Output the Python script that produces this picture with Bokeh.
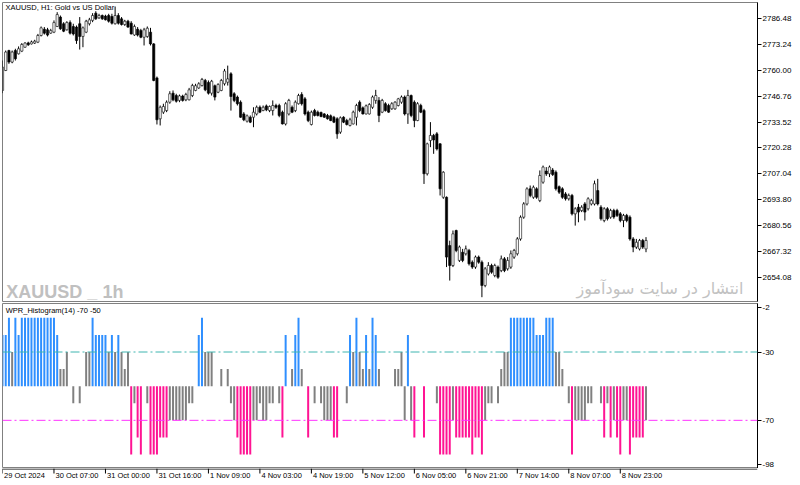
from bokeh.plotting import figure
from bokeh.layouts import column
from bokeh.models import Range1d, FixedTicker, PrintfTickFormatter, Span, Label, ColumnDataSource
from bokeh.core.properties import value
from bokeh.embed import file_html
from bokeh.resources import INLINE

# ---------------- data (XAUUSD H1) ----------------
open_ = [2749.7, 2759.9, 2770.1, 2764.2, 2770.1, 2768.4, 2769.8, 2771.8, 2774.0, 2773.5,
         2773.9, 2774.4, 2777.8, 2781.0, 2780.7, 2779.0, 2779.5, 2782.4, 2787.2, 2783.8,
         2780.7, 2784.4, 2782.4, 2782.1, 2783.8, 2777.3, 2779.5, 2783.8, 2785.5, 2789.2,
         2786.8, 2788.0, 2787.7, 2788.0, 2787.5, 2783.8, 2788.0, 2786.3, 2783.4, 2785.1,
         2784.1, 2778.1, 2781.0, 2780.3, 2776.9, 2777.3, 2779.5, 2773.5, 2756.1, 2735.2,
         2738.6, 2739.4, 2743.7, 2748.3, 2747.1, 2744.6, 2746.8, 2744.9, 2744.9, 2747.1,
         2749.7, 2751.0, 2752.2, 2754.8, 2753.8, 2748.3, 2752.1, 2748.8, 2749.7, 2753.1,
         2753.9, 2758.2, 2748.0, 2746.3, 2743.7, 2737.7, 2734.0, 2736.0, 2736.0, 2737.7,
         2741.1, 2739.4, 2741.8, 2739.4, 2739.4, 2742.0, 2742.0, 2738.6, 2732.6, 2737.7,
         2741.1, 2739.4, 2742.9, 2747.6, 2745.4, 2738.6, 2732.3, 2739.4, 2738.6, 2738.4,
         2737.7, 2736.9, 2736.7, 2736.0, 2735.2, 2728.4, 2736.0, 2734.3, 2731.8, 2732.6,
         2736.0, 2743.7, 2740.8, 2737.7, 2737.7, 2741.1, 2744.6, 2744.6, 2738.6, 2742.9,
         2742.0, 2740.3, 2740.3, 2742.0, 2743.7, 2746.3, 2737.7, 2747.1, 2743.7, 2734.3,
         2742.0, 2739.4, 2707.1, 2724.1, 2726.7, 2727.5, 2722.4, 2695.1, 2695.1, 2670.4,
         2660.2, 2678.1, 2662.8, 2667.0, 2666.2, 2667.9, 2661.9, 2659.4, 2664.5, 2661.9,
         2650.0, 2655.9, 2660.2, 2655.1, 2659.4, 2657.6, 2663.6, 2658.5, 2659.4, 2664.5,
         2666.2, 2673.8, 2684.9, 2691.7, 2699.4, 2695.1, 2699.4, 2693.4, 2702.8, 2708.5,
         2707.1, 2709.0, 2707.9, 2700.5, 2699.4, 2696.8, 2694.3, 2696.0, 2686.6, 2690.0,
         2688.3, 2691.7, 2689.2, 2691.7, 2691.7, 2698.5, 2690.0, 2683.2, 2689.2, 2684.9,
         2688.3, 2688.3, 2686.6, 2683.2, 2685.8, 2684.9, 2673.8, 2669.6, 2668.7, 2673.0,
         2668.7]
high = [2765.0, 2770.1, 2770.5, 2770.1, 2771.0, 2772.2, 2773.9, 2774.4, 2774.6, 2775.2,
        2775.6, 2778.6, 2782.4, 2782.1, 2781.7, 2781.2, 2785.5, 2789.7, 2788.0, 2784.6,
        2785.1, 2785.5, 2783.8, 2782.9, 2787.2, 2782.4, 2785.8, 2786.8, 2789.2, 2790.2,
        2788.9, 2788.5, 2788.4, 2788.9, 2788.9, 2792.6, 2789.2, 2787.2, 2785.8, 2785.8,
        2785.1, 2783.4, 2782.1, 2781.2, 2781.7, 2782.4, 2781.7, 2773.9, 2756.8, 2742.0,
        2742.9, 2744.6, 2749.3, 2749.7, 2748.0, 2747.6, 2747.5, 2748.5, 2751.0, 2753.1,
        2753.1, 2753.9, 2756.1, 2755.6, 2754.8, 2755.1, 2752.7, 2753.4, 2755.6, 2760.7,
        2762.4, 2759.0, 2748.8, 2747.1, 2744.6, 2738.6, 2737.4, 2736.9, 2741.1, 2742.0,
        2742.0, 2742.0, 2742.5, 2742.0, 2744.6, 2742.9, 2742.9, 2739.4, 2743.7, 2745.4,
        2742.0, 2744.6, 2748.0, 2748.8, 2746.3, 2739.4, 2739.4, 2740.3, 2739.4, 2738.9,
        2738.1, 2737.7, 2737.4, 2736.7, 2736.0, 2736.4, 2736.5, 2735.2, 2735.7, 2739.4,
        2742.9, 2744.6, 2741.5, 2742.5, 2743.2, 2747.1, 2750.0, 2746.3, 2745.4, 2743.7,
        2742.9, 2743.7, 2744.2, 2745.9, 2747.1, 2747.1, 2750.0, 2747.6, 2744.6, 2743.7,
        2742.9, 2740.3, 2723.0, 2733.5, 2727.5, 2728.4, 2722.7, 2708.4, 2695.5, 2672.9,
        2678.1, 2678.5, 2670.4, 2668.7, 2670.4, 2668.7, 2662.8, 2665.3, 2665.3, 2662.8,
        2659.4, 2661.9, 2661.1, 2661.1, 2660.2, 2665.3, 2664.5, 2664.5, 2667.9, 2668.7,
        2674.7, 2685.8, 2692.6, 2700.2, 2701.1, 2701.1, 2700.2, 2708.8, 2711.3, 2710.5,
        2711.3, 2710.0, 2708.8, 2701.1, 2700.2, 2697.7, 2697.0, 2696.8, 2690.0, 2691.7,
        2691.0, 2692.6, 2695.1, 2694.3, 2703.6, 2704.5, 2691.0, 2690.0, 2690.0, 2689.2,
        2689.2, 2689.2, 2687.5, 2686.6, 2686.6, 2685.8, 2674.7, 2673.8, 2673.8, 2673.8,
        2674.7]
low = [2748.3, 2759.6, 2763.3, 2763.6, 2765.0, 2768.1, 2769.3, 2771.5, 2772.5, 2773.2,
       2773.5, 2773.9, 2777.3, 2778.3, 2777.3, 2778.6, 2779.0, 2782.1, 2780.7, 2779.5,
       2780.3, 2778.3, 2777.8, 2773.5, 2770.6, 2771.8, 2779.0, 2782.9, 2784.6, 2785.8,
       2786.3, 2785.8, 2785.5, 2784.4, 2783.4, 2783.4, 2783.4, 2782.9, 2782.7, 2781.7,
       2778.3, 2777.6, 2777.3, 2776.4, 2772.7, 2776.6, 2772.7, 2754.4, 2732.3, 2731.8,
       2737.7, 2738.6, 2742.9, 2744.2, 2743.5, 2743.7, 2744.0, 2744.2, 2744.6, 2746.3,
       2749.3, 2750.5, 2751.7, 2749.3, 2747.6, 2747.1, 2744.6, 2748.3, 2749.3, 2752.2,
       2752.2, 2739.4, 2743.7, 2742.0, 2735.7, 2734.0, 2733.3, 2733.0, 2730.9, 2736.9,
       2738.1, 2739.1, 2739.1, 2738.6, 2736.9, 2740.3, 2736.0, 2732.3, 2731.8, 2736.9,
       2738.1, 2738.6, 2742.5, 2742.0, 2736.9, 2733.5, 2731.8, 2736.4, 2736.4, 2736.0,
       2735.7, 2734.8, 2734.0, 2733.0, 2725.0, 2727.5, 2733.0, 2731.8, 2731.3, 2732.3,
       2731.8, 2738.6, 2737.4, 2737.4, 2737.4, 2740.3, 2742.9, 2733.5, 2738.1, 2738.9,
       2738.3, 2739.8, 2739.8, 2741.5, 2742.9, 2736.9, 2732.6, 2736.0, 2730.9, 2734.0,
       2738.1, 2701.9, 2706.2, 2720.7, 2717.3, 2719.0, 2696.0, 2694.3, 2659.4, 2652.5,
       2659.4, 2667.0, 2662.0, 2661.9, 2665.3, 2660.2, 2658.5, 2658.5, 2661.1, 2644.0,
       2649.1, 2655.1, 2656.0, 2654.2, 2653.4, 2656.8, 2656.8, 2657.6, 2658.5, 2663.6,
       2665.3, 2672.9, 2684.1, 2690.9, 2695.1, 2694.3, 2694.3, 2692.6, 2702.0, 2706.0,
       2705.4, 2706.0, 2698.5, 2696.8, 2694.3, 2693.4, 2693.4, 2685.8, 2680.6, 2682.3,
       2687.5, 2683.2, 2688.3, 2690.9, 2690.9, 2690.9, 2683.2, 2682.3, 2683.2, 2684.1,
       2684.1, 2685.0, 2682.3, 2679.8, 2682.3, 2672.9, 2667.0, 2668.7, 2667.9, 2668.7,
       2667.0]
close = [2761.6, 2769.3, 2764.2, 2769.3, 2765.9, 2771.0, 2773.2, 2773.9, 2773.0, 2774.5,
         2774.9, 2777.8, 2781.7, 2779.0, 2778.0, 2780.3, 2784.4, 2788.5, 2781.2, 2780.0,
         2784.4, 2779.0, 2778.6, 2775.2, 2777.3, 2781.7, 2785.1, 2785.8, 2788.0, 2786.3,
         2788.0, 2786.3, 2785.8, 2785.1, 2784.1, 2788.0, 2784.1, 2783.4, 2785.1, 2782.1,
         2778.6, 2782.4, 2778.0, 2776.9, 2780.7, 2781.5, 2773.5, 2754.8, 2734.7, 2741.1,
         2741.5, 2743.7, 2748.0, 2744.9, 2744.2, 2746.9, 2744.6, 2747.6, 2750.0, 2752.2,
         2752.1, 2753.1, 2755.3, 2750.0, 2748.3, 2754.4, 2746.3, 2752.7, 2754.8, 2759.6,
         2755.6, 2746.6, 2744.6, 2742.9, 2736.0, 2734.7, 2736.7, 2733.5, 2738.6, 2741.1,
         2738.6, 2741.1, 2739.8, 2741.5, 2742.0, 2741.1, 2736.9, 2732.6, 2742.9, 2744.6,
         2738.6, 2743.7, 2747.1, 2742.9, 2737.7, 2734.3, 2738.6, 2736.9, 2736.9, 2736.4,
         2736.0, 2735.2, 2734.3, 2733.5, 2727.5, 2735.7, 2733.5, 2732.3, 2734.7, 2738.6,
         2742.0, 2739.4, 2737.7, 2741.8, 2742.5, 2746.3, 2747.1, 2736.9, 2744.6, 2739.4,
         2738.6, 2742.9, 2743.7, 2745.4, 2746.3, 2737.7, 2747.1, 2736.9, 2734.3, 2742.9,
         2738.6, 2707.1, 2722.4, 2726.7, 2724.4, 2719.8, 2699.4, 2707.9, 2664.5, 2660.2,
         2676.4, 2667.9, 2669.6, 2662.8, 2668.7, 2661.1, 2659.4, 2664.5, 2661.9, 2650.0,
         2658.5, 2660.2, 2656.8, 2660.2, 2654.2, 2663.6, 2657.6, 2662.8, 2666.2, 2667.9,
         2673.8, 2684.9, 2691.7, 2699.4, 2696.0, 2700.2, 2695.1, 2706.2, 2710.5, 2707.0,
         2710.5, 2706.7, 2699.4, 2697.7, 2695.1, 2694.3, 2696.0, 2686.6, 2689.2, 2687.5,
         2690.0, 2687.5, 2694.3, 2693.4, 2702.0, 2691.7, 2684.1, 2689.2, 2684.1, 2688.3,
         2685.0, 2685.8, 2683.2, 2685.8, 2683.2, 2673.8, 2669.6, 2672.1, 2673.0, 2669.6,
         2673.0]

# WPR(14) histogram values
wpr = [-20, -20, -10, -30, -10, -20, -10, -10, -10, -10,
       -10, -10, -10, -10, -10, -10, -10, -20, -40, -40,
       -30, -50, -60, -50, -60, -50, -30, -30, -10, -20,
       -20, -20, -20, -30, -20, -30, -20, -30, -40, -30,
       -90, -60, -80, -90, -50, -60, -90, -90, -90, -80,
       -80, -80, -70, -70, -70, -70, -70, -70, -60, -60,
       -50, -20, -10, -30, -30, -30, -50, -50, -40, -50,
       -40, -60, -70, -80, -90, -90, -90, -90, -70, -70,
       -60, -70, -70, -60, -60, -50, -60, -80, -20, -50,
       -40, -20, -10, -40, -50, -80, -50, -60, -50, -60,
       -70, -70, -70, -80, -80, -50, -50, -60, -20, -30,
       -10, -30, -40, -20, -40, -10, -20, -40, -50, -50,
       -50, -50, -40, -40, -30, -70, -20, -70, -80, -50,
       -50, -80, -50, -50, -50, -60, -90, -90, -90, -90,
       -70, -80, -80, -80, -80, -80, -90, -80, -80, -90,
       -70, -60, -60, -50, -60, -40, -30, -30, -10, -10,
       -10, -10, -10, -10, -10, -10, -20, -20, -20, -10,
       -10, -10, -30, -30, -40, -50, -60, -90, -70, -70,
       -70, -70, -60, -60, -50, -50, -60, -80, -60, -80,
       -70, -80, -90, -70, -70, -90, -80, -80, -80, -80,
       -70]

price_ticks = [2654.08, 2667.32, 2680.56, 2693.80, 2707.04, 2720.28,
               2733.52, 2746.76, 2760.00, 2773.24, 2786.48]
# MT draws its edge labels (-2, -98) slightly inside the window
wpr_tick_pos = [-96, -70, -30, -4]
wpr_tick_text = ["-98", "-70", "-30", "-2"]
wpr_levels = [-30, -70]
wpr_base = -50
time_labels = ["29 Oct 2024", "30 Oct 07:00", "31 Oct 00:00", "31 Oct 16:00",
               "1 Nov 09:00", "4 Nov 03:00", "4 Nov 19:00", "5 Nov 12:00",
               "6 Nov 05:00", "6 Nov 21:00", "7 Nov 14:00", "8 Nov 07:00",
               "8 Nov 23:00"]
bars_per_label = 16

# ---------------- styling ----------------
FONT = "Liberation Sans"
BORDER = "#808080"
n = min(len(open_), len(high), len(low), len(close))
idx = list(range(n))

xr = Range1d(0, 234.65)


def style_right_axis(ax):
    ax.major_tick_out = 4
    ax.major_tick_in = 0
    ax.minor_tick_out = 0
    ax.minor_tick_in = 0
    ax.major_label_standoff = 1
    ax.major_label_text_font = FONT
    ax.major_label_text_font_size = "8px"
    ax.major_label_text_color = "black"
    ax.axis_line_color = "black"
    ax.major_tick_line_color = "black"


# ---------------- main price panel ----------------
p1 = figure(width=800, height=302, x_range=xr, y_range=Range1d(2641.8, 2794.66),
            y_axis_location="right", x_axis_location=None,
            toolbar_location=None, output_backend="svg",
            min_border_left=2, min_border_right=43, min_border_top=2, min_border_bottom=1)
p1.grid.visible = False
p1.outline_line_color = BORDER

ya = p1.yaxis[0]
ya.ticker = FixedTicker(ticks=price_ticks)
ya.formatter = PrintfTickFormatter(format="%.2f")
style_right_axis(ya)

up = [close[i] >= open_[i] for i in idx]
src = ColumnDataSource(dict(
    x=idx, h=high[:n], l=low[:n],
    top=[max(open_[i], close[i]) for i in idx],
    bot=[min(open_[i], close[i]) for i in idx],
    fill=["white" if u else "black" for u in up],
))
p1.segment(x0="x", y0="l", x1="x", y1="h", source=src, line_color="black", line_width=1)
p1.vbar(x="x", width=0.7, top="top", bottom="bot", source=src,
        fill_color="fill", line_color="black", line_width=0.6)

p1.add_layout(Label(x=0, y=2794.2, x_offset=3, text="XAUUSD, H1:  Gold vs US Dollar",
                    text_font=FONT, text_font_size="7.5px", text_color="black",
                    text_baseline="top", text_align="left"))
p1.add_layout(Label(x=1.2, y=2646.8, text="XAUUSD _ 1h", text_font=FONT,
                    text_font_style="bold", text_font_size="18px", text_color="#c0c0c0",
                    text_baseline="alphabetic", text_align="left"))
p1.add_layout(Label(x=230.3, y=2648.2, text="انتشار در سایت سودآموز", text_font="DejaVu Sans",
                    text_font_size="16px", text_color="#c2c2c2",
                    text_baseline="alphabetic", text_align="right"))

# ---------------- WPR histogram panel ----------------
p2 = figure(width=800, height=166, x_range=xr, y_range=Range1d(-98.2, -1.6),
            y_axis_location="right", x_axis_location=None,
            toolbar_location=None, output_backend="svg",
            min_border_left=2, min_border_right=43, min_border_top=1, min_border_bottom=0)
p2.grid.visible = False
p2.outline_line_color = BORDER

ya2 = p2.yaxis[0]
ya2.ticker = FixedTicker(ticks=wpr_tick_pos)
ya2.major_label_overrides = dict(zip(wpr_tick_pos, wpr_tick_text))
style_right_axis(ya2)

m = len(wpr)
hcol = ["#2F8FFF" if v > -30 else ("#FF1493" if v < -70 else "#808080") for v in wpr]
hsrc = ColumnDataSource(dict(x=list(range(m)), top=wpr, bottom=[wpr_base] * m, color=hcol))
p2.vbar(x="x", width=0.62, top="top", bottom="bottom", source=hsrc,
        fill_color="color", line_color=None)

p2.add_layout(Span(location=wpr_levels[0], dimension="width", line_color="#3FB5B0",
                   line_dash="9 3 2 3", line_width=1))
p2.add_layout(Span(location=wpr_levels[1], dimension="width", line_color="#FF33FF",
                   line_dash="9 3 2 3", line_width=1))

p2.add_layout(Label(x=1.0, y=-3.2, text="WPR_Histogram(14) -70 -50", text_font=FONT,
                    text_font_size="7.5px", text_color="black",
                    text_baseline="top", text_align="left"))

# ---------------- time scale strip ----------------
p3 = figure(width=800, height=17, x_range=xr, y_range=Range1d(0, 17),
            x_axis_location=None, y_axis_location=None,
            toolbar_location=None, output_backend="svg",
            min_border_left=2, min_border_right=43, min_border_top=0, min_border_bottom=0)
p3.grid.visible = False
p3.outline_line_color = None

tick_pos = [k * bars_per_label for k in range(len(time_labels))]
p3.add_layout(Span(location=16.5, dimension="width", line_color="black", line_width=1))
p3.segment(x0=tick_pos, y0=[17] * len(tick_pos), x1=tick_pos, y1=[12] * len(tick_pos),
           line_color="black", line_width=1)
p3.text(x=tick_pos, y=[15] * len(tick_pos), text=time_labels, x_offset=1.5,
        text_font=value(FONT), text_font_size="7.5px", text_color="black",
        text_baseline="top", text_align="left")

layout = column(p1, p2, p3, spacing=0)
open("out.html", "w").write(file_html(layout, INLINE))
